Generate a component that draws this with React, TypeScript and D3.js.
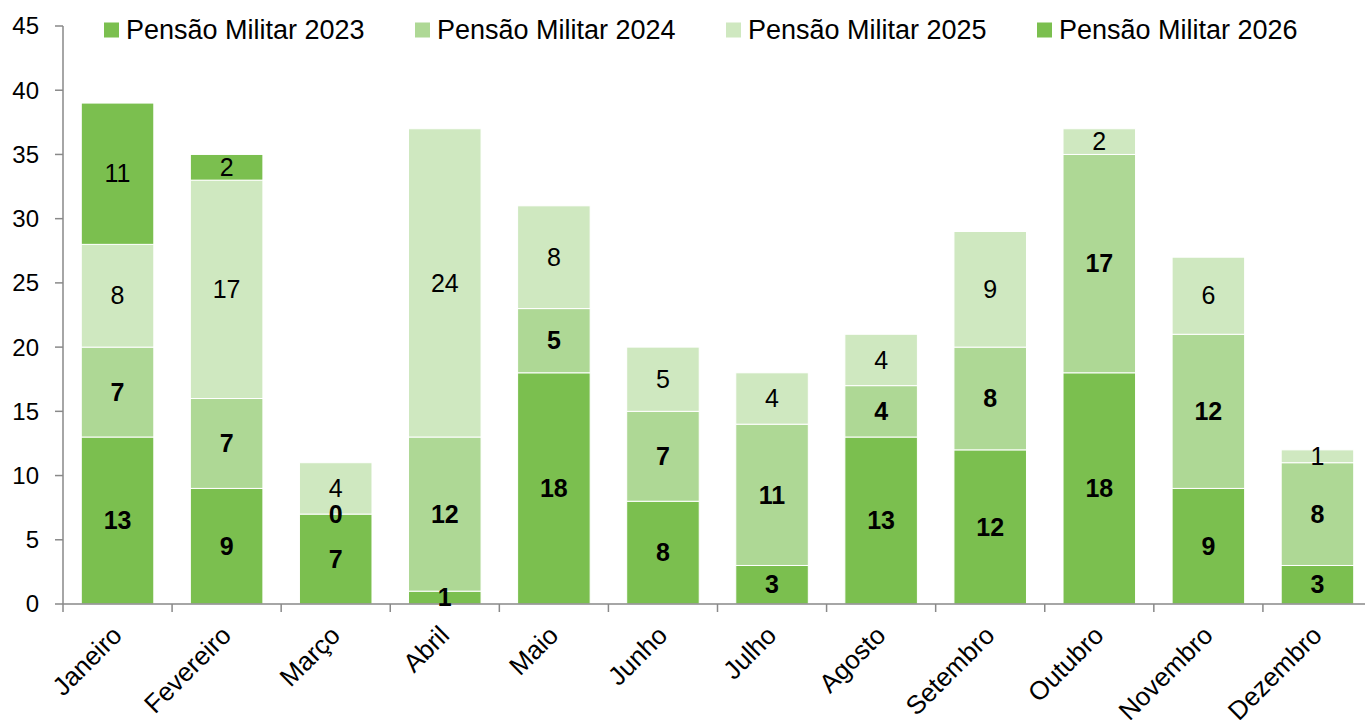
import React from "react";
import * as d3 from "d3";

const months = ["Janeiro", "Fevereiro", "Março", "Abril", "Maio", "Junho", "Julho", "Agosto", "Setembro", "Outubro", "Novembro", "Dezembro"];
const seriesNames = ["Pensão Militar 2023", "Pensão Militar 2024", "Pensão Militar 2025", "Pensão Militar 2026"];
const pm2023 = [13, 9, 7, 1, 18, 8, 3, 13, 12, 18, 9, 3];
const pm2024 = [7, 7, 0, 12, 5, 7, 11, 4, 8, 17, 12, 8];
const pm2025 = [8, 17, 4, 24, 8, 5, 4, 4, 9, 2, 6, 1];
const pm2026: (number | null)[] = [11, 2, null, null, null, null, null, null, null, null, null, null];
const yTicks = [0, 5, 10, 15, 20, 25, 30, 35, 40, 45];

const colors = ["#7bbf4f", "#aed895", "#cfe8c0", "#7bbf4f"];
const boldLabels = [true, true, false, false];
const font = "'Liberation Sans', Arial, sans-serif";

export default function App() {
  const width = 1365;
  const height = 720;
  const left = 63, right = 1372, top = 26, bottom = 604;

  const values = [pm2023, pm2024, pm2025, pm2026];
  const rows = months.map((m, i) => {
    const r: any = { month: m };
    seriesNames.forEach((s, k) => (r[s] = values[k][i] ?? 0));
    return r;
  });
  const stacked = d3.stack<any>().keys(seriesNames)(rows);

  const x = d3.scaleBand().domain(months).range([left, right]).paddingInner(0.335).paddingOuter(0.1675);
  const y = d3.scaleLinear().domain([0, 45]).range([bottom, top]);
  const step = x.step();

  return (
    <svg width={width} height={height} style={{ position: "absolute", left: 0, top: 0, background: "#fff" }} fontFamily={font}>
      {/* bars */}
      {stacked.map((layer, k) => (
        <g key={k} fill={colors[k]}>
          {layer.map((d, i) =>
            values[k][i] == null || d[1] - d[0] === 0 ? null : (
              <rect key={i} x={x(months[i])} y={y(d[1])} width={x.bandwidth()} height={y(d[0]) - y(d[1])} stroke="#fff" strokeWidth={1} />
            )
          )}
        </g>
      ))}

      {/* axes */}
      <line x1={left} x2={left} y1={top} y2={bottom} stroke="#898989" strokeWidth={1.5} />
      {yTicks.map((t) => (
        <g key={t}>
          <line x1={left - 8} x2={left} y1={y(t)} y2={y(t)} stroke="#898989" strokeWidth={1.5} />
          <text x={39} y={y(t)} dy="0.35em" textAnchor="end" fontSize={24} fill="#000">
            {t}
          </text>
        </g>
      ))}
      <line x1={left} x2={right} y1={bottom} y2={bottom} stroke="#898989" strokeWidth={1.5} />
      {d3.range(months.length + 1).map((i) => (
        <line key={i} x1={left + i * step} x2={left + i * step} y1={bottom} y2={bottom + 8} stroke="#898989" strokeWidth={1.5} />
      ))}
      {months.map((m) => {
        const cx = x(m)! + x.bandwidth() / 2;
        return (
          <text key={m} transform={`translate(${cx + 6},${bottom + 33}) rotate(-45)`} textAnchor="end" fontSize={26} fill="#000">
            {m}
          </text>
        );
      })}

      {/* data labels */}
      {stacked.map((layer, k) => (
        <g key={"l" + k}>
          {layer.map((d, i) =>
            values[k][i] == null ? null : (
              <text
                key={i}
                x={x(months[i])! + x.bandwidth() / 2}
                y={y((d[0] + d[1]) / 2)}
                dy="0.35em"
                textAnchor="middle"
                fontSize={25}
                fontWeight={boldLabels[k] ? "bold" : "normal"}
                fill="#000"
              >
                {values[k][i]}
              </text>
            )
          )}
        </g>
      ))}

      {/* legend */}
      {seriesNames.map((s, k) => (
        <g key={s} transform={`translate(${104 + k * 311},30)`}>
          <rect x={0} y={-7.5} width={15} height={15} fill={colors[k]} />
          <text x={22} y={0} dy="0.35em" fontSize={27} fill="#000">
            {s}
          </text>
        </g>
      ))}
    </svg>
  );
}
